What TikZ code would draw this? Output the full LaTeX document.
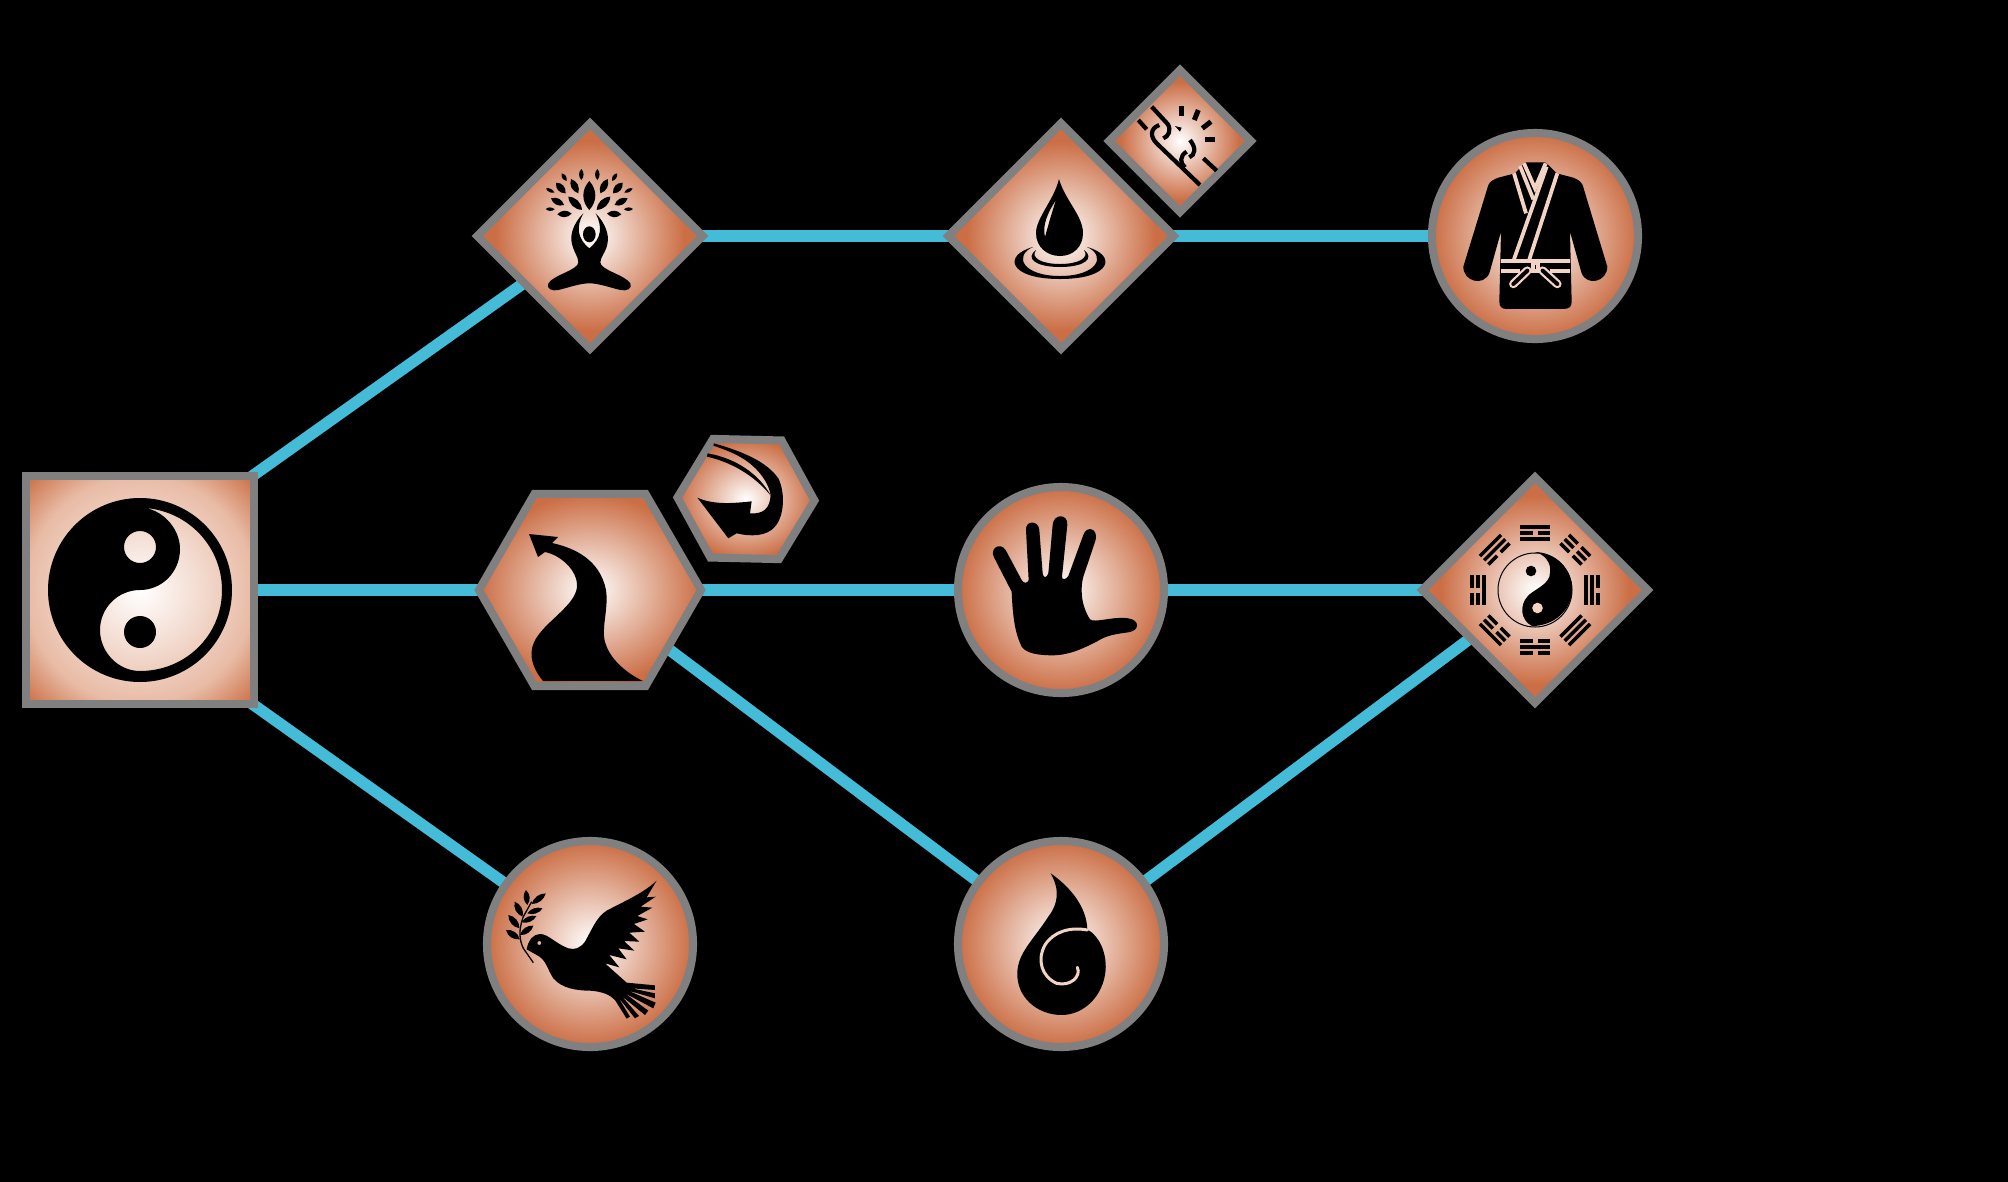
\documentclass[tikz,border=0pt]{standalone}
\usepackage{tikz}
\usetikzlibrary{shapes.geometric,backgrounds}
\definecolor{gris}{HTML}{808080}
\definecolor{cian}{HTML}{45BCD7}
\definecolor{cobre}{HTML}{CB6E45}
\definecolor{salmon}{HTML}{E8BBA5}
\definecolor{palido}{HTML}{F3D3C3}
\pgfdeclareradialshading{disco}{\pgfpointorigin}{color(0bp)=(white); color(25bp)=(cobre); color(50bp)=(cobre)}
\pgfdeclareradialshading{cuadro}{\pgfpointorigin}{color(0bp)=(white); color(25bp)=(salmon); color(35bp)=(cobre); color(50bp)=(cobre)}
\pgfdeclareradialshading{rombo}{\pgfpointorigin}{color(0bp)=(white); color(21bp)=(cobre); color(50bp)=(cobre)}
\tikzset{
	marco/.style={draw=gris,line width=0.8mm,inner sep=0pt,shade},
	circulo/.style={marco,circle,shading=disco,minimum size=2.06cm},
	cuadrado/.style={marco,rectangle,shading=cuadro,minimum size=2.28cm},
	losange/.style={marco,diamond,aspect=1,shading=rombo,minimum size=#1},
	sexto/.style={marco,regular polygon,regular polygon sides=6,shading=disco,minimum size=#1},
	enlace/.style={cian,line width=1.15mm}
}
\newcommand{\hoja}[5]{
	\fill [shift={(#1,#2)},rotate=#3] (0,0) .. controls ({0.3*#4},#5) and ({0.7*#4},#5) .. (#4,0) .. controls ({0.7*#4},-#5) and ({0.3*#4},-#5) .. (0,0) -- cycle;
}
\newcommand{\barra}[2]{
	\ifnum#2=1
		\fill (-15,{-#1-1.7}) rectangle (-2.5,{-#1+1.7});
		\fill (2.5,{-#1-1.7}) rectangle (15,{-#1+1.7});
	\else
		\fill (-15,{-#1-1.7}) rectangle (15,{-#1+1.7});
	\fi
}
\newcommand{\trigrama}[4]{
	\begin{scope}[shift={(bagua.center)},rotate=#1]
		\barra{63}{#2}
		\barra{57}{#3}
		\barra{51}{#4}
	\end{scope}
}
\begin{document}
\begin{tikzpicture}[x=0.01cm,y=-0.01cm]
	\useasboundingbox (0,0) rectangle (2008,1181);
% NODOS
	\node [cuadrado] (taiji) at (140,590) {};
	\node [sexto=2.22cm] (camino) at (590,590) {};
	\node [sexto=1.37cm,rotate=-1.3] (flecha) at (746,499) {};
	\node [losange=2.285cm] (arbol) at (590,236) {};
	\node [losange=2.285cm] (gota) at (1061,236) {};
	\node [losange=1.45cm] (cadena) at (1180,141) {};
	\node [circulo] (gi) at (1535,236) {};
	\node [circulo] (mano) at (1061,590) {};
	\node [losange=2.285cm] (bagua) at (1535,590) {};
	\node [circulo] (paloma) at (590,944) {};
	\node [circulo] (llama) at (1061,944) {};
% ENLACES
	\begin{scope}[on background layer]
		\fill [black] (-5,-5) rectangle (2013,1186);
		\draw [enlace,shorten <=-3mm] (taiji.north east) -- (arbol.center);
		\draw [enlace] (taiji.center) -- (camino.center);
		\draw [enlace,shorten <=-3mm] (taiji.south east) -- (paloma.center);
		\draw [enlace] (arbol.center) -- (gota.center);
		\draw [enlace] (gota.center) -- (gi.center);
		\draw [enlace] (camino.center) -- (mano.center);
		\draw [enlace] (mano.center) -- (bagua.center);
		\draw [enlace] (camino.center) -- (llama.center);
		\draw [enlace] (llama.center) -- (bagua.center);
	\end{scope}
% TAIJI
	\fill [even odd rule] (140,590) circle [radius=92] (146,508) .. controls (190,512) and (222,548) .. (222,590) .. controls (222,636) and (185,671) .. (140,671) .. controls (118,671) and (100,652) .. (100,630) .. controls (100,608) and (118,590) .. (140,590) .. controls (162,590) and (180,572) .. (180,549) .. controls (180,530) and (165,512) .. (146,508) -- cycle (140,547) circle [radius=16];
	\fill (140,632) circle [radius=16];
% CAMINO
	\fill (529,534) -- (558,537) -- (552,543) .. controls (575,548) and (600,560) .. (606,590) .. controls (609,610) and (600,630) .. (606,645) .. controls (612,662) and (630,675) .. (643,681) -- (543,681) .. controls (530,665) and (528,650) .. (537,637) .. controls (548,620) and (575,605) .. (577,587) .. controls (578,570) and (560,555) .. (545,552) -- (538,557) -- cycle;
% FLECHA
	\begin{scope}[shift={(660,425)},scale=0.3333]
		\fill (162,55) .. controls (250,80) and (320,110) .. (355,160) .. controls (375,200) and (375,270) .. (345,305) .. controls (320,335) and (270,335) .. (230,325) -- (205,340) -- (112,218) .. controls (160,240) and (220,235) .. (275,229) -- (270,265) .. controls (310,268) and (330,250) .. (332,210) .. controls (325,170) and (290,120) .. (230,90) .. controls (210,80) and (185,70) .. (160,62) -- cycle;
		\fill (143,85) .. controls (230,100) and (300,150) .. (333,213) .. controls (295,165) and (230,115) .. (141,95) -- cycle;
	\end{scope}
% ARBOL
	\begin{scope}[shift={(510,155)},scale=0.3333]
		\hoja{238}{78}{-90}{87}{24}
		\foreach \s in {1,-1} {
			\begin{scope}[shift={(238,0)},xscale=\s]
				\hoja{-24}{42}{-90}{33}{9}
				\hoja{-83}{55}{-57}{27}{8}
				\hoja{-55}{72}{-63}{48}{14}
				\hoja{-100}{83}{-48}{43}{14}
				\hoja{-130}{100}{-27}{28}{7}
				\hoja{-63}{125}{-44}{57}{15}
				\hoja{-115}{130}{-27}{44}{13}
				\hoja{-131}{162}{-2}{27}{7}
				\hoja{-96}{178}{3}{43}{13}
			\end{scope}
		}
		\fill (220,175) .. controls (190,205) and (180,240) .. (185,262) .. controls (190,290) and (205,305) .. (205,322) .. controls (205,345) and (130,360) .. (115,385) .. controls (108,400) and (125,410) .. (145,405) .. controls (175,398) and (210,385) .. (238,385) .. controls (266,385) and (301,398) .. (331,405) .. controls (351,410) and (368,400) .. (361,385) .. controls (346,360) and (271,345) .. (271,322) .. controls (271,305) and (290,290) .. (293,262) .. controls (297,240) and (287,205) .. (257,175) .. controls (278,215) and (275,250) .. (238,280) .. controls (201,250) and (198,215) .. (220,175) -- cycle;
		\fill (238,238) ellipse [x radius=19,y radius=24];
	\end{scope}
% GOTA
	\fill [even odd rule] (1059,179) .. controls (1054,200) and (1036,218) .. (1036,233) .. controls (1036,247) and (1047,256) .. (1060,256) .. controls (1073,256) and (1083,247) .. (1083,233) .. controls (1083,216) and (1065,200) .. (1059,179) -- cycle (1056,200) .. controls (1048,212) and (1042,225) .. (1045,237) .. controls (1048,226) and (1052,212) .. (1056,200) -- cycle;
	\fill (1033,247) .. controls (1003,255) and (1008,279) .. (1060,279) .. controls (1112,279) and (1117,255) .. (1087,247) .. controls (1107,256) and (1097,276) .. (1060,276) .. controls (1023,276) and (1013,256) .. (1033,247) -- cycle;
	\fill (1036,250) .. controls (1025,258) and (1035,267) .. (1060,267) .. controls (1085,267) and (1095,258) .. (1084,250) .. controls (1090,258) and (1078,264) .. (1060,264) .. controls (1042,264) and (1030,258) .. (1036,250) -- cycle;
% CADENA
	\begin{scope}[shift={(1100,80)},scale=0.3333,line width=0.42mm]
		\draw (155,80) -- (203,132) .. controls (215,150) and (205,170) .. (190,175);
		\draw (115,120) -- (140,148);
		\draw (178,135) .. controls (150,145) and (150,170) .. (170,190) -- (300,315);
		\draw (270,180) .. controls (290,205) and (285,225) .. (268,232);
		\draw (260,215) .. controls (238,228) and (240,250) .. (255,262);
		\draw (310,235) -- (350,272);
		\fill (225,138) -- (245,143) -- (240,155) -- cycle;
		\draw [line width=0.5mm] (244,78) -- (244,108);
		\draw [line width=0.5mm] (295,90) -- (283,120);
		\draw [line width=0.5mm] (333,125) -- (307,145);
		\draw [line width=0.5mm] (345,177) -- (315,177);
	\end{scope}
% GI
	\begin{scope}[shift={(1400,110)},scale=0.3333]
		\fill (345,190) -- (295,203) .. controls (280,208) and (270,215) .. (265,225) -- (190,470) .. controls (190,515) and (250,530) .. (268,490) -- (303,365) -- (298,575) .. controls (298,590) and (305,597) .. (320,597) -- (490,597) .. controls (508,597) and (515,590) .. (515,575) -- (510,365) -- (545,490) .. controls (562,530) and (622,515) .. (622,470) -- (548,225) .. controls (543,215) and (533,208) .. (520,203) -- (470,190) -- (445,165) -- (435,157) -- (378,157) -- (368,165) -- cycle;
		\begin{scope}[draw=palido,line width=0.38mm]
			\draw (372,160) -- (405,235) -- (437,160);
			\draw (342,190) -- (378,310);
			\draw (360,168) -- (400,268);
			\draw (440,170) -- (342,448);
			\draw (472,190) -- (388,448);
			\draw (303,453) -- (510,453);
			\draw (303,484) -- (360,484);
			\draw (450,484) -- (510,484);
			\draw [fill=black] (398,458) rectangle (414,482);
			\draw [line width=0.85mm,line cap=round] (382,482) -- (340,522);
			\draw [line width=0.85mm,line cap=round] (428,482) -- (472,522);
		\end{scope}
		\draw [line width=0.4mm,line cap=round] (382,482) -- (340,522);
		\draw [line width=0.4mm,line cap=round] (428,482) -- (472,522);
	\end{scope}
% MANO
	\begin{scope}[shift={(940,470)},scale=0.3333]
		\fill (215,365) -- (162,262) .. controls (148,235) and (180,215) .. (197,240) -- (245,330) .. controls (250,340) and (262,342) .. (266,330) -- (258,180) .. controls (256,150) and (296,150) .. (298,180) -- (308,310) .. controls (310,325) and (320,325) .. (325,310) -- (338,165) .. controls (340,130) and (385,130) .. (382,165) -- (366,320) .. controls (365,330) and (378,330) .. (385,318) -- (430,195) .. controls (440,165) and (475,175) .. (467,210) -- (430,320) .. controls (422,350) and (420,400) .. (450,448) .. controls (465,460) and (520,438) .. (565,445) .. controls (600,450) and (600,482) .. (565,487) .. controls (530,492) and (500,495) .. (470,515) .. controls (430,535) and (390,555) .. (340,556) .. controls (300,556) and (260,552) .. (245,530) .. controls (225,490) and (218,440) .. (215,365) -- cycle;
	\end{scope}
% BAGUA
	\draw [line width=0.1mm] (bagua.center) circle [radius=37];
	\fill (1534,552) .. controls (1556,552) and (1572,569) .. (1572,589) .. controls (1572,610) and (1554,626) .. (1532,626) .. controls (1520,620) and (1520,605) .. (1527,597) .. controls (1532,590) and (1550,585) .. (1550,573) .. controls (1552,562) and (1543,553) .. (1534,552) -- cycle;
	\fill [palido] (1537.5,608) circle [radius=5.3];
	\fill (1531,571) circle [radius=5.3];
	\trigrama{0}{0}{1}{0}
	\trigrama{45}{0}{0}{1}
	\trigrama{90}{1}{1}{0}
	\trigrama{135}{0}{1}{1}
	\trigrama{180}{1}{0}{1}
	\trigrama{225}{0}{0}{0}
	\trigrama{270}{1}{0}{0}
	\trigrama{315}{1}{1}{1}
% PALOMA
	\begin{scope}[shift={(490,860)},scale=0.3333]
		\fill [even odd rule] (110,268) .. controls (115,240) and (130,222) .. (150,222) .. controls (175,222) and (195,250) .. (235,265) .. controls (255,270) and (270,265) .. (285,245) .. controls (305,210) and (320,170) .. (350,152) .. controls (400,125) and (460,100) .. (500,62) -- (470,112) -- (497,110) -- (452,140) -- (487,143) -- (442,168) -- (473,178) -- (432,192) -- (465,215) -- (418,218) -- (448,245) -- (402,243) -- (433,272) -- (385,265) -- (410,298) -- (358,285) -- (388,322) -- (345,310) -- (410,368) -- (495,376) -- (495,390) -- (425,385) -- (495,400) -- (495,415) -- (415,392) -- (497,428) -- (490,445) -- (405,400) -- (475,452) -- (465,465) -- (395,408) -- (447,468) -- (435,475) -- (385,412) -- (420,470) -- (410,476) -- (375,420) .. controls (360,405) and (340,395) .. (300,392) .. controls (260,392) and (215,385) .. (190,355) .. controls (170,325) and (170,300) .. (140,285) -- cycle (148,249) circle [radius=6];
		\draw [line width=0.13mm] (130,308) -- (100,265) .. controls (88,240) and (85,210) .. (100,170) -- (125,125);
		\hoja{108}{90}{-85}{45}{12}
		\hoja{125}{132}{37}{53}{12}
		\hoja{74}{125}{-62}{51}{13}
		\hoja{112}{160}{18}{48}{11}
		\hoja{55}{165}{-50}{52}{13}
		\hoja{95}{187}{23}{48}{11}
		\hoja{48}{210}{-34}{50}{13}
		\hoja{90}{225}{35}{49}{12}
	\end{scope}
% LLAMA
	\begin{scope}[shift={(990,860)},scale=0.3333]
		\fill (182,40) .. controls (240,80) and (290,140) .. (292,208) .. controls (330,230) and (350,280) .. (347,330) .. controls (340,410) and (280,465) .. (215,465) .. controls (140,465) and (80,410) .. (82,340) .. controls (82,280) and (130,240) .. (175,170) .. controls (205,130) and (210,90) .. (182,40) -- cycle;
		\draw [palido,line width=0.3mm,line cap=round] (292,210) .. controls (240,200) and (190,215) .. (165,255) .. controls (140,300) and (155,350) .. (200,370) .. controls (240,380) and (275,350) .. (262,322);
	\end{scope}
\end{tikzpicture}
\end{document}
